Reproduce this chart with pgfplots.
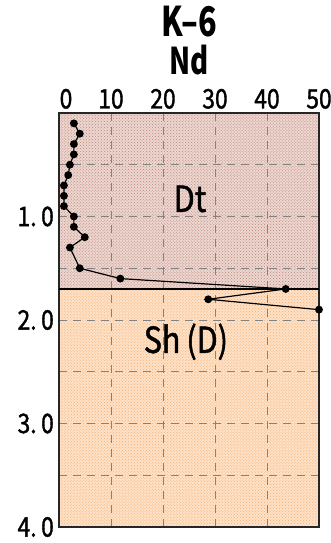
\documentclass[border=0pt]{standalone}
\usepackage{pgfplots}
\pgfplotsset{compat=1.18}
\usepackage{fontspec}
\setmainfont{Noto Sans CJK JP}[FakeStretch=0.85]
\newfontfamily\medfont{Noto Sans CJK JP}[FakeStretch=0.85, FakeBold=1.3]
\newfontfamily\titlefont{Noto Sans CJK JP}[FakeStretch=0.75]
\usetikzlibrary{patterns}
\definecolor{dtbase}{RGB}{236,214,208}
\definecolor{dtdot}{RGB}{188,132,120}
\definecolor{shbase}{RGB}{253,226,200}
\definecolor{shdot}{RGB}{248,172,110}
\definecolor{gridgray}{RGB}{130,130,130}
\begin{document}
\begin{tikzpicture}
\begin{axis}[
  name=ax,
  set layers=standard,
  scale only axis, width=260bp, height=414bp,
  xmin=0, xmax=50, ymin=0, ymax=4, y dir=reverse,
  clip=false,
  xtick={0,10,20,30,40,50},
  xticklabels={\hspace*{14bp}0,10,20,30,40,50},
  ytick={1,2,3,4},
  yticklabels={1.\,0,2.\,0,3.\,0,4.\,0},
  minor ytick={0.5,1.5,2.5,3.5},
  xticklabel pos=upper,
  major tick length=0pt, minor tick length=0pt,
  grid=both,
  major grid style={gridgray, line width=0.8bp, dash pattern=on 8bp off 6bp},
  minor grid style={gridgray, line width=0.8bp, dash pattern=on 8bp off 6bp},
  axis line style={black!85, line width=1.3bp},
  tick label style={font=\medfont\fontsize{27}{27}\selectfont},
  xticklabel style={anchor=south, inner sep=0pt, yshift=4bp},
  yticklabel style={anchor=east, inner sep=0pt, xshift=-5bp},
]
\begin{pgfonlayer}{axis background}
\fill[dtbase] (axis cs:0,0) rectangle (axis cs:50,1.7);
\fill[pattern=crosshatch dots, pattern color=dtdot] (axis cs:0,0) rectangle (axis cs:50,1.7);
\fill[shbase] (axis cs:0,1.7) rectangle (axis cs:50,4);
\fill[pattern=crosshatch dots, pattern color=shdot] (axis cs:0,1.7) rectangle (axis cs:50,4);
\end{pgfonlayer}
\draw[black, line width=1.2bp] (axis cs:0,1.7) -- (axis cs:50,1.7);
\draw[black, line width=2.6bp, dash pattern=on 17bp off 7bp] (axis cs:0,1.7) -- (axis cs:50,1.7);
\addplot[black, line width=1.2bp, mark=*, mark size=3.3bp, mark options={solid}] coordinates {
(2.86,0.1) (4.0,0.2) (2.86,0.3) (2.86,0.4) (2.1,0.5) (1.77,0.6) (0.95,0.7) (0.95,0.8) (0.95,0.9)
(2.86,1.0) (2.86,1.1) (4.96,1.2) (2.1,1.3) (4.0,1.5) (11.8,1.6) (43.6,1.7) (28.7,1.8) (50,1.9)
};
\node[font=\medfont\fontsize{36}{36}\selectfont] at (axis cs:25.2,0.83) {Dt};
\node[font=\medfont\fontsize{36}{36}\selectfont] at (axis cs:24.4,2.21) {Sh\,(D)};
\end{axis}
\node[anchor=base, yshift=76bp, font=\titlefont\bfseries\fontsize{41}{41}\selectfont] at (ax.north) {K–6};
\node[anchor=base, yshift=38bp, font=\titlefont\bfseries\fontsize{37}{37}\selectfont] at (ax.north) {Nd};
\pgfresetboundingbox
\path[use as bounding box] ([xshift=-59bp,yshift=-16bp]ax.south west) rectangle ([xshift=12bp,yshift=113bp]ax.north east);
\end{tikzpicture}
\end{document}
